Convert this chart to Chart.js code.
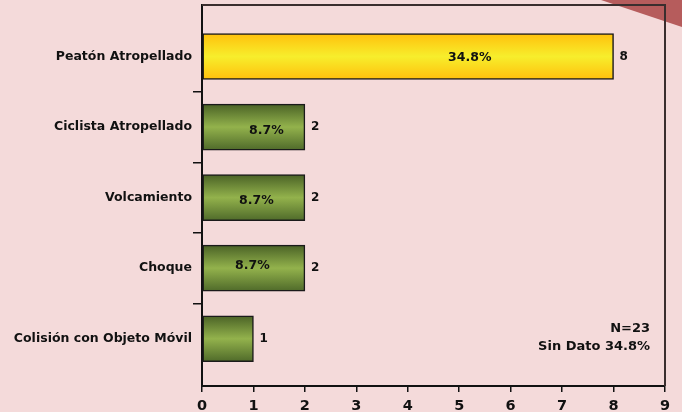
<!DOCTYPE html>
<html>
<head>
<meta charset="utf-8">
<script src="https://cdn.jsdelivr.net/npm/chart.js@4/dist/chart.umd.min.js"></script>
<style>
  html, body { margin: 0; padding: 0; background: #F4DADA; }
  #wrap { width: 682px; height: 412px; position: relative; }
</style>
</head>
<body>
<div id="wrap"><canvas id="c" width="682" height="412"></canvas></div>
<script>
// ---- data ----
const categories = ['Peatón Atropellado', 'Ciclista Atropellado', 'Volcamiento', 'Choque', 'Colisión con Objeto Móvil'];
const counts = [8, 2, 2, 2, 1];
const percentLabels = ['34.8%', '8.7%', '8.7%', '8.7%', ''];
const xTicks = [0, 1, 2, 3, 4, 5, 6, 7, 8, 9];
const noteLines = ['N=23', 'Sin Dato 34.8%'];

// ---- styles ----
const FONT = '"DejaVu Sans", Verdana, sans-serif';
const pctShift = [[62, 1.5], [13, 4], [3, 3.5], [-1, -2], [0, 0]];

function barGradient(ctx) {
  const chart = ctx.chart;
  const ys = chart.scales.y;
  const fallback = ctx.dataIndex === 0 ? '#FBD81C' : '#7A9A40';
  if (!ys || ctx.dataIndex === undefined) return fallback;
  const c = ys.getPixelForValue(ctx.dataIndex);
  if (!isFinite(c)) return fallback;
  const g = chart.ctx.createLinearGradient(0, c - 23, 0, c + 23);
  if (ctx.dataIndex === 0) {
    g.addColorStop(0, '#FFC00C');
    g.addColorStop(0.5, '#F7EE2C');
    g.addColorStop(1, '#FFC00C');
  } else {
    g.addColorStop(0, '#4A6226');
    g.addColorStop(0.5, '#93B24C');
    g.addColorStop(1, '#4F6A2A');
  }
  return g;
}

const decor = {
  id: 'decor',
  beforeDraw(chart) {
    const ctx = chart.ctx;
    ctx.save();
    ctx.fillStyle = '#F4DADA';
    ctx.fillRect(0, 0, chart.width, chart.height);
    ctx.fillStyle = '#B65C5C';
    ctx.beginPath();
    ctx.moveTo(601, 0);
    ctx.lineTo(682, 0);
    ctx.lineTo(682, 27);
    ctx.closePath();
    ctx.fill();
    ctx.restore();
  },
  afterDraw(chart) {
    const ctx = chart.ctx;
    const a = chart.chartArea;
    ctx.save();
    ctx.strokeStyle = '#3A2E2E';
    ctx.lineWidth = 2;
    ctx.beginPath();
    ctx.moveTo(a.left, a.top);
    ctx.lineTo(a.right, a.top);
    ctx.lineTo(a.right, a.bottom);
    ctx.stroke();
    const meta = chart.getDatasetMeta(0);
    const xs = chart.scales.x;
    ctx.fillStyle = '#111';
    ctx.textBaseline = 'middle';
    meta.data.forEach((bar, i) => {
      ctx.font = 'bold 12px ' + FONT;
      ctx.textAlign = 'left';
      ctx.fillText(String(counts[i]), bar.x + 6, bar.y);
      if (percentLabels[i]) {
        ctx.font = 'bold 12.5px ' + FONT;
        ctx.textAlign = 'center';
        const cx = (xs.getPixelForValue(0) + bar.x) / 2 + pctShift[i][0];
        ctx.fillText(percentLabels[i], cx, bar.y + pctShift[i][1]);
      }
    });
    ctx.font = 'bold 13px ' + FONT;
    ctx.textAlign = 'right';
    ctx.fillText(noteLines[0], 650, 329);
    ctx.fillText(noteLines[1], 650, 347);
    ctx.restore();
  }
};

new Chart(document.getElementById('c'), {
  type: 'bar',
  data: {
    datasets: [{
      data: counts.map((v, i) => ({ x: v, y: i })),
      backgroundColor: barGradient,
      borderColor: '#1A1A1A',
      borderWidth: 1.5,
      borderSkipped: false,
      barThickness: 46
    }]
  },
  options: {
    indexAxis: 'y',
    responsive: false,
    animation: false,
    devicePixelRatio: 1,
    layout: { padding: { top: 5, right: 17, left: 0, bottom: 0 } },
    plugins: { legend: { display: false }, tooltip: { enabled: false } },
    scales: {
      x: {
        type: 'linear',
        offset: false,
        min: xTicks[0],
        max: xTicks[xTicks.length - 1],
        afterBuildTicks: (axis) => { axis.ticks = xTicks.map(v => ({ value: v })); },
        afterFit: (axis) => { axis.height = 26; },
        grid: { offset: false, drawOnChartArea: false, drawTicks: true, tickLength: 6, color: '#111', lineWidth: 1.5 },
        border: { display: true, color: '#111', width: 2 },
        ticks: { color: '#111', padding: 6, font: { family: FONT, size: 14.5, weight: 'bold' } }
      },
      y: {
        type: 'linear',
        offset: false,
        reverse: true,
        min: -0.73,
        max: 4.67,
        afterBuildTicks: (axis) => {
          const t = [];
          for (let v = 0; v <= categories.length - 1; v += 0.5) t.push({ value: v });
          axis.ticks = t;
        },
        afterFit: (axis) => { axis.width = 202; axis.paddingTop = 0; axis.paddingBottom = 0; },
        grid: {
          offset: false, drawOnChartArea: false, drawTicks: true, tickLength: 9, lineWidth: 1.5,
          color: (c) => (c.tick && Number.isInteger(c.tick.value)) ? 'rgba(0,0,0,0)' : '#111'
        },
        border: { display: true, color: '#111', width: 2 },
        ticks: {
          color: '#111', padding: 1, autoSkip: false,
          font: { family: FONT, size: 12.5, weight: 'bold' },
          callback: (v) => Number.isInteger(v) ? categories[v] : ''
        }
      }
    }
  },
  plugins: [decor]
});
</script>
</body>
</html>
